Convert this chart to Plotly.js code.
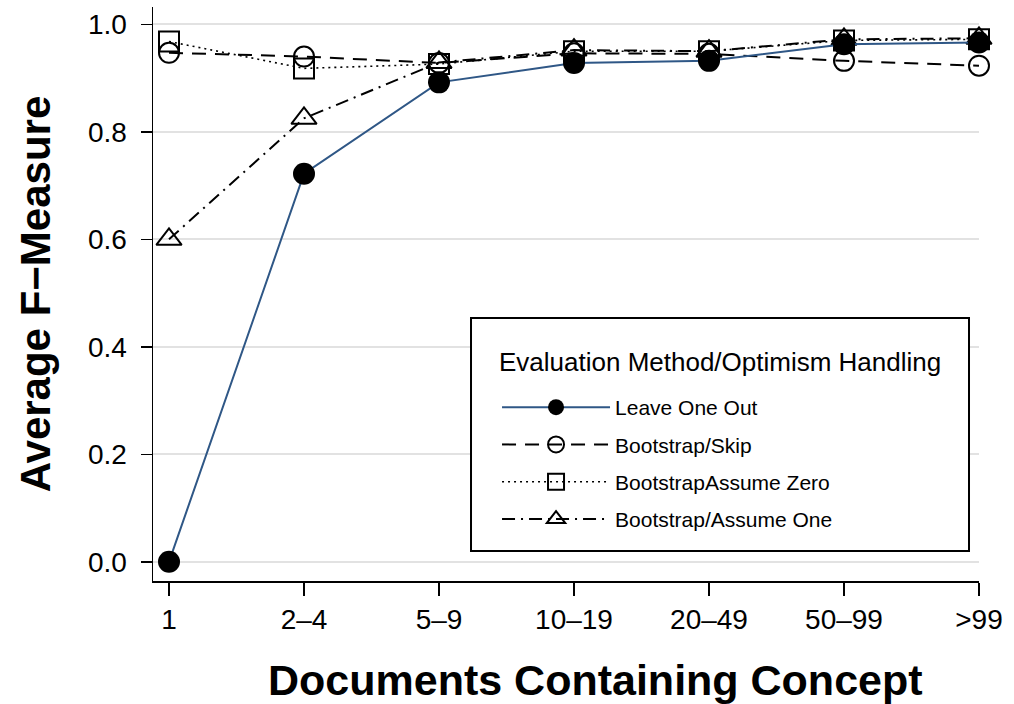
<!DOCTYPE html>
<html>
<head>
<meta charset="utf-8">
<script src="https://cdn.plot.ly/plotly-3.0.1.min.js"></script>
<style>
  html, body { margin: 0; padding: 0; background: #ffffff; }
  #chart { width: 1014px; height: 704px; }
</style>
</head>
<body>
<div id="chart"></div>
<script>
// Categories: number of documents containing a concept
const categories = ['1', '2\u20134', '5\u20139', '10\u201319', '20\u201349', '50\u201399', '>99'];

// Average F-measure per evaluation method / optimism handling
const leaveOneOut    = [0.000, 0.722, 0.892, 0.928, 0.932, 0.963, 0.966];
const bootstrapSkip  = [0.947, 0.940, 0.928, 0.946, 0.945, 0.932, 0.923];
const bootstrapZero  = [0.968, 0.918, 0.926, 0.950, 0.950, 0.970, 0.972];
const bootstrapOne   = [0.600, 0.825, 0.929, 0.952, 0.950, 0.972, 0.974];

const yTicks = [0, 0.2, 0.4, 0.6, 0.8, 1.0];

const legendHeading = 'Evaluation Method/Optimism Handling';
const xTitle = 'Documents Containing Concept';
const yTitle = 'Average F\u2212Measure';

const FONT = 'Liberation Sans, Arial, Helvetica, sans-serif';

function series(name, values, rank, lineStyle, markerStyle) {
  return {
    type: 'scatter',
    mode: 'lines+markers',
    name: name,
    x: categories,
    y: values,
    legendrank: rank,
    legendgroup: name,
    cliponaxis: false,
    line: lineStyle,
    marker: markerStyle
  };
}

// draw order: open markers first, filled circles on top
const traces = [
  series('Bootstrap/Skip', bootstrapSkip, 2,
    { color: '#000000', width: 2, dash: '14px,9px' },
    { symbol: 'circle-open', size: 20, color: '#000000', line: { width: 2, color: '#000000' } }),
  series('BootstrapAssume Zero', bootstrapZero, 3,
    { color: '#000000', width: 1.6, dash: '2px,4px' },
    { symbol: 'square-open', size: 20, color: '#000000', line: { width: 2, color: '#000000' } }),
  series('Bootstrap/Assume One', bootstrapOne, 4,
    { color: '#000000', width: 2, dash: '13px,6px,2px,6px' },
    { symbol: 'triangle-up-open', size: 22, color: '#000000', line: { width: 2, color: '#000000' } }),
  series('Leave One Out', leaveOneOut, 1,
    { color: '#2f5786', width: 2 },
    { symbol: 'circle', size: 22, color: '#000000', line: { width: 0 } })
];

const layout = {
  width: 1014,
  height: 704,
  margin: { l: 153, r: 35, t: 7, b: 123 },
  paper_bgcolor: '#ffffff',
  plot_bgcolor: '#ffffff',
  font: { family: FONT, color: '#000000' },
  showlegend: true,
  legend: {
    x: 0.4165, y: 0.338, xanchor: 'left', yanchor: 'top',
    bgcolor: 'rgba(0,0,0,0)',
    borderwidth: 0,
    itemwidth: 108,
    tracegroupgap: 7,
    font: { family: FONT, size: 21, color: '#000000' }
  },
  // framed box behind the legend entries
  shapes: [{
    type: 'rect', xref: 'paper', yref: 'paper',
    x0: 0.385, x1: 0.9879, y0: 0.0523, y1: 0.4582,
    fillcolor: '#ffffff',
    line: { color: '#000000', width: 2 },
    layer: 'above'
  }],
  annotations: [
    {
      text: legendHeading, xref: 'paper', yref: 'paper',
      x: 0.4165, y: 0.3815, xanchor: 'left', yanchor: 'middle',
      showarrow: false,
      font: { family: FONT, size: 26, color: '#000000' }
    },
    {
      text: xTitle, xref: 'paper', yref: 'paper',
      x: 0.536, y: -0.1725, xanchor: 'center', yanchor: 'middle',
      showarrow: false,
      font: { family: FONT, size: 43, weight: 'bold', color: '#000000' }
    }
  ],
  xaxis: {
    type: 'category',
    categoryorder: 'array',
    categoryarray: categories,
    range: [-0.1185, 6],
    showgrid: false,
    zeroline: false,
    showline: true,
    linecolor: '#000000',
    linewidth: 1.5,
    ticks: 'outside',
    ticklen: 13,
    tickwidth: 1.5,
    tickcolor: '#000000',
    ticklabelstandoff: 0,
    tickfont: { family: FONT, size: 28, color: '#000000' }
  },
  yaxis: {
    range: [-0.0357, 1.0322],
    tickvals: yTicks,
    tickformat: '.1f',
    showgrid: true,
    gridcolor: '#e2e2e2',
    gridwidth: 2,
    zeroline: false,
    showline: true,
    linecolor: '#000000',
    linewidth: 1.5,
    ticks: 'outside',
    ticklen: 11,
    tickwidth: 1.5,
    tickcolor: '#000000',
    ticklabelstandoff: 8,
    tickfont: { family: FONT, size: 28, color: '#000000' },
    title: { text: yTitle, standoff: 24,
             font: { family: FONT, size: 42, weight: 'bold', color: '#000000' } }
  }
};

Plotly.newPlot('chart', traces, layout, { displayModeBar: false, staticPlot: true });
</script>
</body>
</html>
